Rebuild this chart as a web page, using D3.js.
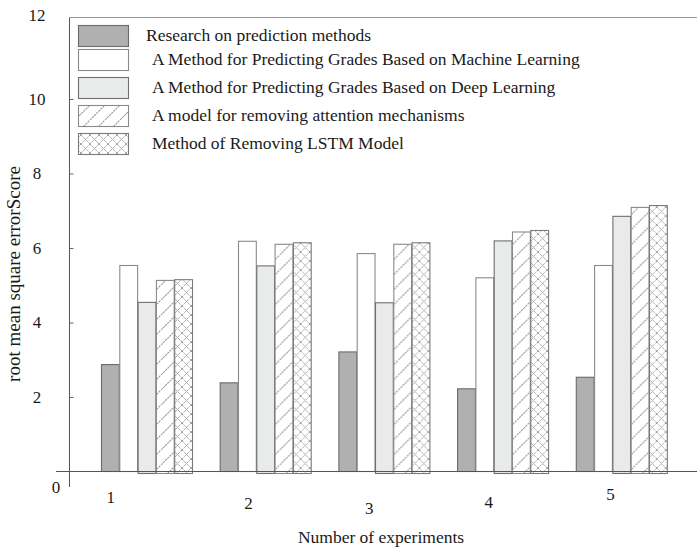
<!DOCTYPE html>
<html><head><meta charset="utf-8">
<script src="https://cdn.jsdelivr.net/npm/d3@7"></script>
<style>
body{margin:0;background:#fff}
svg{display:block}
text{font-family:"Liberation Serif","Times New Roman",serif;fill:#1a1a1a}
</style>
</head><body>
<svg id="c" width="697" height="549"></svg>
<script>
// ---------- data ----------
const experiments = ["1", "2", "3", "4", "5"];
const seriesNames = [
  "Research on prediction methods",
  "A Method for Predicting Grades Based on Machine Learning",
  "A Method for Predicting Grades Based on Deep Learning",
  "A model for removing attention mechanisms",
  "Method of Removing LSTM Model"
];
const researchPrediction = [2.87, 2.38, 3.21, 2.22, 2.53];
const machineLearning    = [5.53, 6.18, 5.85, 5.20, 5.53];
const deepLearning       = [4.54, 5.52, 4.53, 6.19, 6.85];
const noAttention        = [5.13, 6.10, 6.10, 6.43, 7.09];
const noLSTM             = [5.15, 6.14, 6.14, 6.47, 7.14];
const yTickValues = [0, 2, 4, 6, 8, 10, 12];
const xTitle = "Number of experiments";
const yTitle = "root mean square errorScore";

// ---------- setup ----------
const seriesValues = [researchPrediction, machineLearning, deepLearning, noAttention, noLSTM];
const seriesKeys = d3.range(seriesValues.length);
const rows = experiments.map((e, i) => ({exp: e, vals: seriesValues.map(s => s[i])}));

const svg = d3.select("#c");
const defs = svg.append("defs");
// diagonal hatch
const ph = defs.append("pattern").attr("id", "hatch").attr("patternUnits", "userSpaceOnUse")
  .attr("width", 15).attr("height", 15);
ph.append("rect").attr("width", 15).attr("height", 15).attr("fill", "#fff");
ph.append("path").attr("d", "M0,15 L15,0 M-4,4 L4,-4 M11,19 L19,11")
  .attr("stroke", "#9a9a9a").attr("stroke-width", 1.1).attr("stroke-dasharray", "2.2,0.8");
// cross hatch
const pc = defs.append("pattern").attr("id", "cross").attr("patternUnits", "userSpaceOnUse")
  .attr("width", 9).attr("height", 9);
pc.append("rect").attr("width", 9).attr("height", 9).attr("fill", "#fff");
pc.append("path").attr("d", "M0,0 L9,9 M9,0 L0,9")
  .attr("stroke", "#a0a0a0").attr("stroke-width", 1).attr("stroke-dasharray", "1.6,0.6");

const fills   = ["#b0b0b0", "#ffffff", "#e9eaea", "url(#hatch)", "url(#cross)"];
const strokes = ["#6a6a6a", "#8a8a8a", "#6f6f6f", "#8a8a8a", "#7a7a7a"];

const axisX = 69.5, frameTop = 17.5;
const x = d3.scaleBand().domain(experiments).range([101, 667.3]).paddingInner(0.229).paddingOuter(0);
const xs = d3.scaleBand().domain(seriesKeys).range([0, x.bandwidth()]);
const y = d3.scaleLinear().domain([0, 12]).range([471.5, 24.5]);

// ---------- bars ----------
const g = svg.append("g");
const groups = g.selectAll("g.grp").data(rows).join("g").attr("class", "grp")
  .attr("transform", d => `translate(${x(d.exp)},0)`);
groups.selectAll("rect").data(d => d.vals.map((v, k) => ({k, v}))).join("rect")
  .attr("x", d => xs(d.k) + 0.5)
  .attr("y", d => y(d.v))
  .attr("width", xs.bandwidth() - 0.5)
  .attr("height", d => y(0) - y(d.v) + (d.k >= 2 ? 2 : 0))
  .attr("fill", d => fills[d.k])
  .attr("stroke", d => strokes[d.k])
  .attr("stroke-width", 1.1);

// ---------- axes ----------
const axG = svg.append("g").attr("transform", `translate(${axisX},0)`)
  .call(d3.axisLeft(y).tickValues(yTickValues.filter(v => v > 0 && v < 12)).tickSize(-4).tickFormat(""));
axG.select(".domain").remove();
axG.selectAll(".tick line").attr("stroke", "#666");

svg.append("line").attr("x1", axisX).attr("x2", axisX).attr("y1", frameTop).attr("y2", 487)
  .attr("stroke", "#555").attr("stroke-width", 1);
svg.append("line").attr("x1", 56).attr("x2", 697).attr("y1", y(0)).attr("y2", y(0))
  .attr("stroke", "#555").attr("stroke-width", 1);
svg.append("line").attr("x1", axisX).attr("x2", 697).attr("y1", frameTop).attr("y2", frameTop)
  .attr("stroke", "#999").attr("stroke-width", 1);

// y tick labels (ends nudged as in original)
const yLabelDy = v => v === 12 ? -9 : (v === 0 ? 16 : 0);
const yLabelX = v => v === 0 ? 56 : 37;
svg.append("g").selectAll("text").data(yTickValues).join("text")
  .attr("x", yLabelX).attr("y", v => y(v) + yLabelDy(v))
  .attr("text-anchor", "middle").attr("dominant-baseline", "central")
  .attr("font-size", 17).text(v => v);

// x tick labels (original has irregular offsets)
const xLabelDx = [-36, -17, -15, -14, -11];
const xLabelY = [497, 503, 508, 502, 494];
svg.append("g").selectAll("text").data(experiments).join("text")
  .attr("x", (d, i) => x(d) + x.bandwidth() / 2 + xLabelDx[i])
  .attr("y", (d, i) => xLabelY[i])
  .attr("text-anchor", "middle").attr("dominant-baseline", "central")
  .attr("font-size", 17).text(d => d);

// titles
svg.append("text").attr("x", 381).attr("y", 537).attr("text-anchor", "middle")
  .attr("dominant-baseline", "central").attr("font-size", 17.5).text(xTitle);
svg.append("text").attr("transform", "translate(13,274) rotate(-90)").attr("text-anchor", "middle")
  .attr("dominant-baseline", "central").attr("font-size", 19).text(yTitle);

// ---------- legend ----------
const legY = [25, 49, 77, 105, 133];
const legTextX = [146, 152, 152, 152, 152];
const leg = svg.append("g").selectAll("g").data(seriesNames).join("g");
leg.append("rect").attr("x", 78.5).attr("y", (d, i) => legY[i] + 0.5)
  .attr("width", 50).attr("height", 21)
  .attr("fill", (d, i) => fills[i]).attr("stroke", (d, i) => strokes[i]).attr("stroke-width", 1.1);
leg.append("text").attr("x", (d, i) => legTextX[i]).attr("y", (d, i) => legY[i] + 10)
  .attr("dominant-baseline", "central").attr("font-size", 17.5).text(d => d);
</script>
</body></html>
